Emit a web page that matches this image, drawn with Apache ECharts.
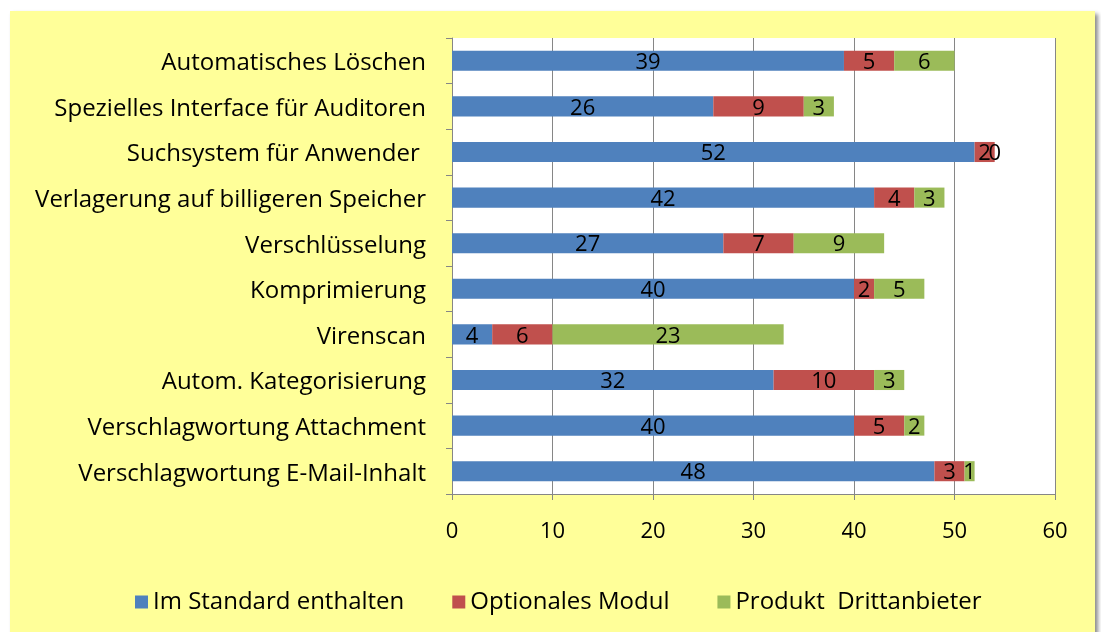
<!DOCTYPE html>
<html>
<head>
<meta charset="utf-8">
<script src="https://cdn.jsdelivr.net/npm/echarts@6/dist/echarts.min.js"></script>
<style>
html,body{margin:0;padding:0;background:#fff;}
#c{width:1101px;height:632px;}
</style>
</head>
<body>
<div id="c"></div>
<script>
const categories = [
  'Automatisches Löschen',
  'Spezielles Interface für Auditoren',
  'Suchsystem für Anwender ',
  'Verlagerung auf billigeren Speicher',
  'Verschlüsselung',
  'Komprimierung',
  'Virenscan',
  'Autom. Kategorisierung',
  'Verschlagwortung Attachment',
  'Verschlagwortung E-Mail-Inhalt'
];
const seriesNames = ['Im Standard enthalten', 'Optionales Modul', 'Produkt  Drittanbieter'];
const standard = [39, 26, 52, 42, 27, 40, 4, 32, 40, 48];
const optional = [5, 9, 2, 4, 7, 2, 6, 10, 5, 3];
const thirdParty = [6, 3, 0, 3, 9, 5, 23, 3, 2, 1];
const colors = ['#4F81BD', '#C0504D', '#9BBB59'];

const FONT = 'Open Sans';
const chart = echarts.init(document.getElementById('c'));
const mk = (name, data, color) => ({
  name, type: 'bar', stack: 'total', data,
  barWidth: '44%',
  itemStyle: { color },
  label: { show: true, position: 'inside', color: '#000', fontSize: 22, fontFamily: FONT, offset: [0, 2] },
  emphasis: { disabled: true }
});
chart.setOption({
  animation: false,
  textStyle: { fontFamily: FONT },
  graphic: [{
    type: 'rect', z: -10, silent: true,
    shape: { x: 10, y: 11, width: 1085, height: 640 },
    style: { fill: '#FFFF99', shadowColor: 'rgba(0,0,0,0.45)', shadowBlur: 4, shadowOffsetX: 3, shadowOffsetY: 3 }
  }],
  grid: { left: 452, right: 46, top: 38, bottom: 138, show: true, backgroundColor: '#fff', borderWidth: 0 },
  legend: {
    left: 130, top: 585, icon: 'rect', itemWidth: 13, itemHeight: 13, itemGap: 48,
    textStyle: { fontSize: 24, color: '#000', fontFamily: FONT },
    data: seriesNames
  },
  xAxis: {
    type: 'value', min: 0, max: 60, interval: 10,
    axisLine: { show: true, lineStyle: { color: '#868686' } },
    axisTick: { show: true, length: 6, lineStyle: { color: '#868686' } },
    splitLine: { show: true, lineStyle: { color: '#868686', width: 1 } },
    axisLabel: { fontSize: 22, color: '#000', margin: 27, fontFamily: FONT }
  },
  yAxis: {
    type: 'category', inverse: true, data: categories,
    axisLine: { show: true, lineStyle: { color: '#868686' } },
    axisTick: { show: true, length: 6, lineStyle: { color: '#868686' } },
    axisLabel: {
      margin: 26,
      formatter: v => '{t|' + v + '}',
      rich: { t: { fontSize: 24, color: '#000', fontFamily: FONT, padding: [5, 0, 0, 0] } }
    }
  },
  series: [
    mk(seriesNames[0], standard, colors[0]),
    mk(seriesNames[1], optional, colors[1]),
    mk(seriesNames[2], thirdParty, colors[2])
  ]
});
</script>
</body>
</html>
